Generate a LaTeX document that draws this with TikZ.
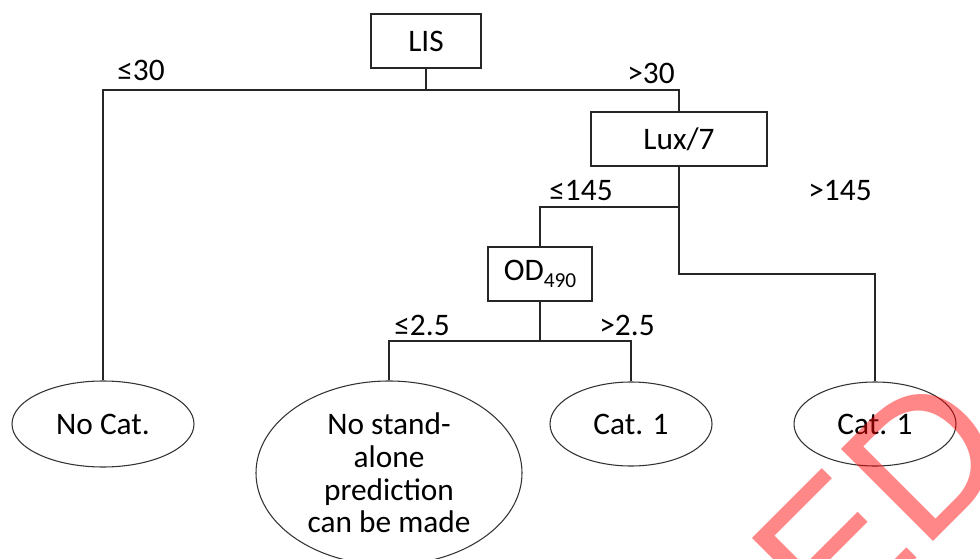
\documentclass[tikz,border=0pt]{standalone}
\usepackage{fontspec}
\setmainfont{Carlito}
\newfontfamily\wmfont{Liberation Sans}
\usetikzlibrary{shapes.geometric}
\newcommand\dfmain{\fontsize{23.5}{24.6}\selectfont}
\newcommand\dfsub[1]{{\fontsize{16}{16}\selectfont\raisebox{-5pt}{#1}}}
\begin{document}
\begin{tikzpicture}[x=0.75pt,y=-0.75pt,
  line width=0.9pt,
  dbox/.style={draw=black!85,rectangle,inner sep=0pt,font=\dfmain,line width=0.9pt},
  leaf/.style={draw=black!80,ellipse,inner sep=0pt,line width=0.8pt},
  leaftext/.style={font=\dfmain,align=center},
  cond/.style={font=\dfmain,inner sep=0pt,anchor=center},
  conn/.style={draw=black!85,line width=0.9pt}]
\useasboundingbox (0,0) rectangle (980,559);
\clip (0,0) rectangle (980,559);
\fill[white] (0,0) rectangle (980,559);

% decision boxes
\node[dbox,minimum width=82.5pt,minimum height=40.5pt] (lis) at (426,41) {LIS};
\node[dbox,minimum width=132pt,minimum height=40.5pt] (lux) at (679,139) {Lux/7};
\node[dbox,minimum width=78pt,minimum height=40.5pt] (od) at (540,274) {OD\dfsub{490}};

% leaves
\node[leaf,minimum width=136.5pt,minimum height=64.5pt,
  label={[leaftext]center:No Cat.}] (nocat) at (103,424) {};
\node[leaf,minimum width=199.5pt,minimum height=138pt,
  label={[leaftext]center:No stand-\\alone\\prediction\\can be made}] (nopred) at (389,473) {};
\node[leaf,minimum width=121.5pt,minimum height=63pt,
  label={[leaftext]center:Cat. 1}] (catm) at (631,424) {};
\node[leaf,minimum width=121.5pt,minimum height=63pt,
  label={[leaftext]center:Cat. 1}] (catr) at (875,424) {};

% junctions
\coordinate (j1) at (426,90);
\coordinate (j2) at (679,207);
\coordinate (j3) at (679,274);
\coordinate (j4) at (540,341);

% connectors
\draw[conn] (lis.south) -- (j1);
\draw[conn] (nocat.north) |- (j1) -| (lux.north);
\draw[conn] (lux.south) -- (j3) -| (catr.north);
\draw[conn] (od.north) |- (j2);
\draw[conn] (od.south) -- (j4);
\draw[conn] (nopred.north) |- (j4) -| (catm.north);

% condition labels
\node[cond] (c1) at (141,70) {≤30};
\node[cond] (c2) at (651,73) {>30};
\node[cond] (c3) at (581,191) {≤145};
\node[cond] (c4) at (840,191) {>145};
\node[cond] (c5) at (422,325) {≤2.5};
\node[cond] (c6) at (627,325) {>2.5};

% watermark fragment
\node[inner sep=0pt,anchor=base west,rotate=45,text=red,text opacity=0.47,
  font=\wmfont\fontsize{142}{142}\selectfont] (wm) at (833,642) {ED};
\end{tikzpicture}
\end{document}
